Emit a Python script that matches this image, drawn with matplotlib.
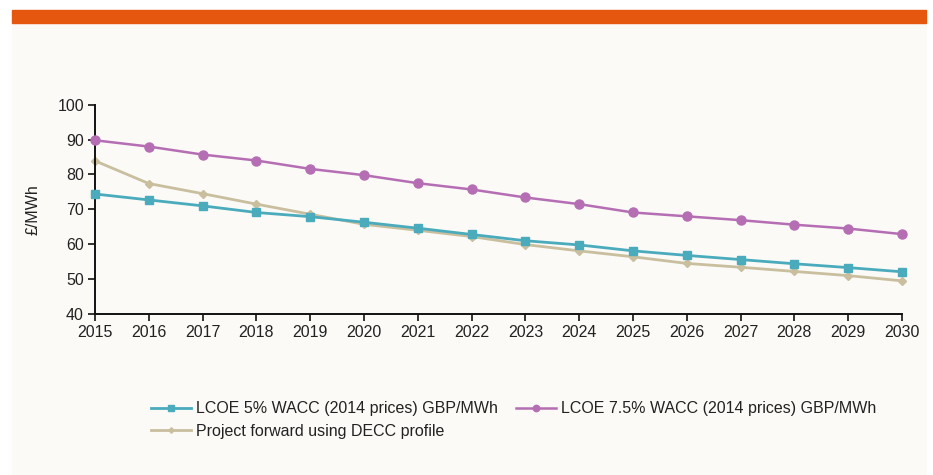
import matplotlib.pyplot as plt
from matplotlib.patches import Rectangle

years = list(range(2015, 2031))
lcoe_5 = [74.4, 72.7, 71.0, 69.1, 67.9, 66.3, 64.6, 62.8, 61.0, 59.8, 58.1, 56.8, 55.6, 54.4, 53.3, 52.1]
lcoe_75 = [89.8, 88.0, 85.7, 84.0, 81.6, 79.8, 77.5, 75.7, 73.4, 71.5, 69.1, 68.0, 66.9, 65.6, 64.5, 62.9]
decc = [83.9, 77.4, 74.5, 71.5, 68.6, 65.7, 64.0, 62.2, 59.9, 58.1, 56.4, 54.5, 53.4, 52.2, 51.0, 49.5]
labels = ["LCOE 5% WACC (2014 prices) GBP/MWh",
          "LCOE 7.5% WACC (2014 prices) GBP/MWh",
          "Project forward using DECC profile"]

plt.rcParams['font.family'] = ['Liberation Sans', 'DejaVu Sans']

W, H = 933, 475
fig = plt.figure(figsize=(W / 100, H / 100), dpi=100, facecolor='white')
# cream panel and orange header bar
fig.patches.append(Rectangle((12 / W, 0), (926 - 12) / W, 1 - 9.7 / H,
                             transform=fig.transFigure, color='#fbfaf6', zorder=-2))
fig.patches.append(Rectangle((12 / W, 1 - 22.7 / H), (926 - 12) / W, 13 / H,
                             transform=fig.transFigure, color='#e5560e', zorder=-1))

ax = fig.add_axes([95 / W, 1 - 314 / H, (902 - 95) / W, (314 - 104.7) / H])
ax.set_facecolor('none')
ax.set_zorder(2)

l1, = ax.plot(years, lcoe_5, color='#4aabbd', lw=2, marker='s', ms=6, zorder=3, clip_on=False)
l2, = ax.plot(years, lcoe_75, color='#b56db3', lw=1.8, marker='o', ms=6.5, zorder=3, clip_on=False)
l3, = ax.plot(years, decc, color='#c9bf9f', lw=2, marker='D', ms=4, zorder=2, clip_on=False)

ax.set_xlim(2015, 2030)
ax.set_ylim(40, 100)
ax.set_xticks(years)
ax.set_yticks(range(40, 101, 10))
ax.tick_params(labelsize=11.5, length=5, width=1.3, colors='#222222', pad=3)
for s in ['top', 'right']:
    ax.spines[s].set_visible(False)
for s in ['left', 'bottom']:
    ax.spines[s].set_linewidth(1.4)
    ax.spines[s].set_color('#111111')
ax.set_ylabel('£/MWh', fontsize=11.5, color='#222222', labelpad=12)

fig.legend([l1, l3, l2], [labels[0], labels[2], labels[1]], ncol=2, frameon=False,
           fontsize=11.5, loc='upper left', bbox_to_anchor=(137 / W, 1 - 387 / H),
           handlelength=2.5, handletextpad=0.3, columnspacing=1.15,
           labelspacing=0.45, markerscale=0.7, labelcolor='#222222')

fig.savefig('out.png', dpi=100, facecolor=fig.get_facecolor())
